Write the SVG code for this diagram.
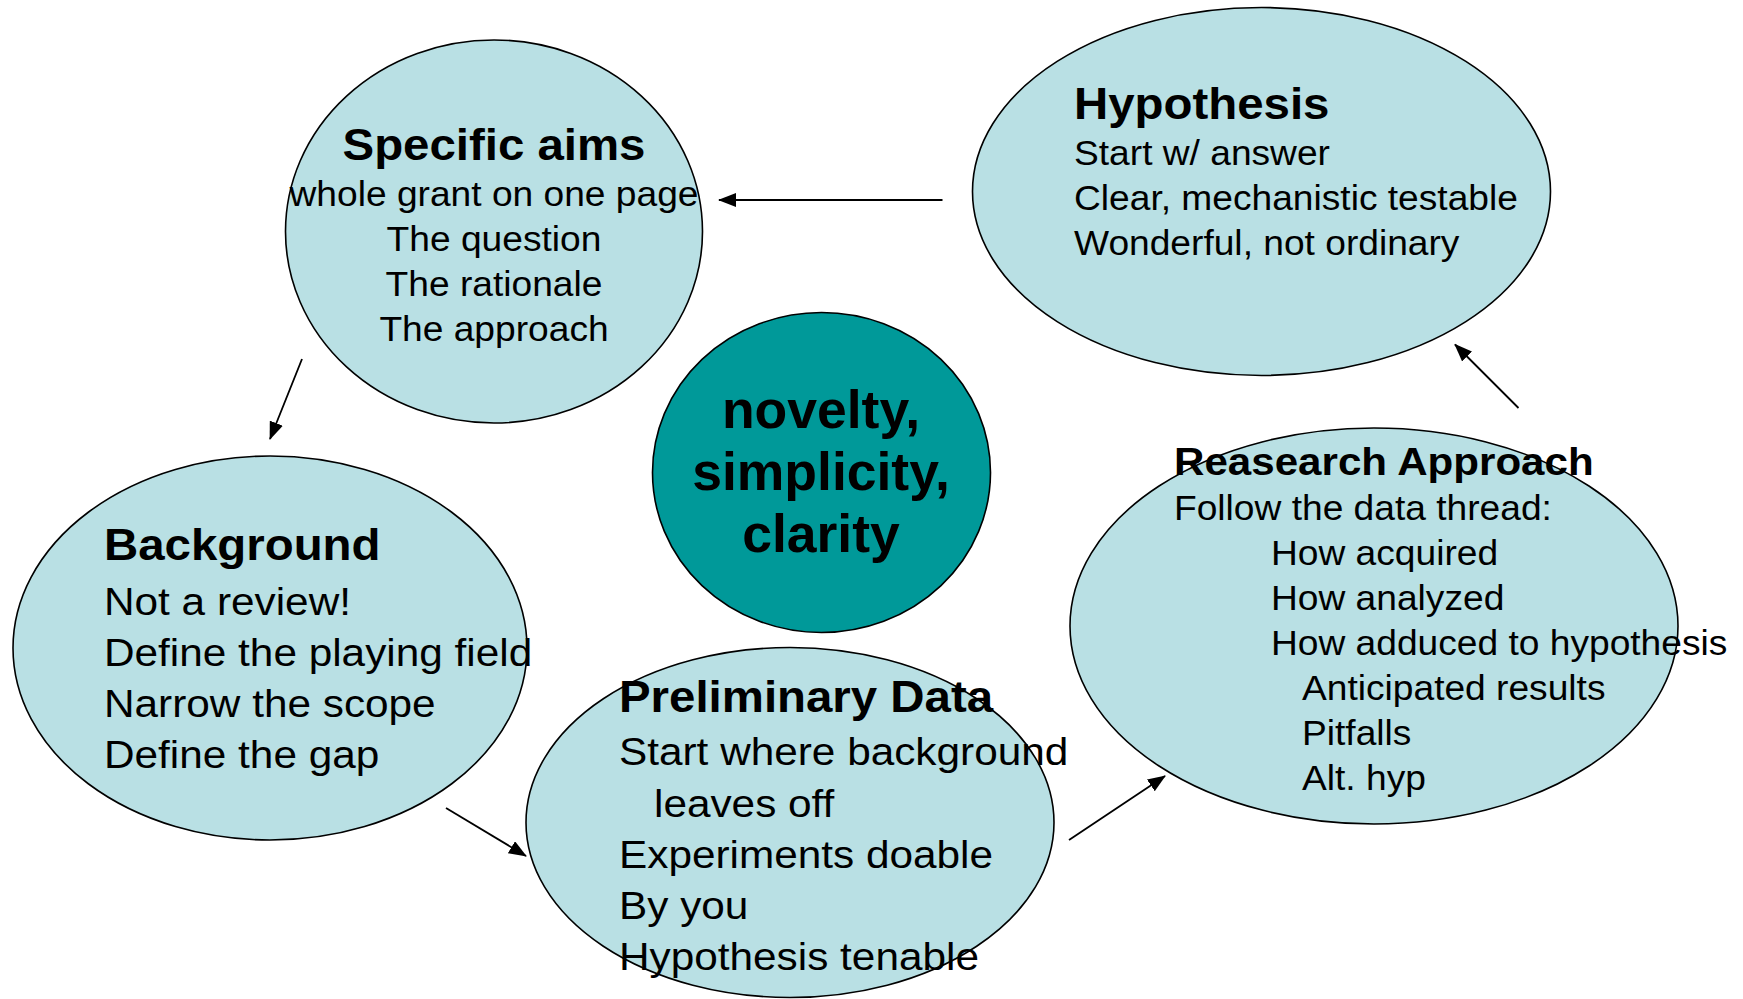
<svg xmlns="http://www.w3.org/2000/svg" width="1743" height="999" viewBox="0 0 1743 999">
<style>
.lt{fill:#B9E0E4;stroke:#000;stroke-width:1.6}
.dk{fill:#009999;stroke:#000;stroke-width:1.6}
text{font-family:"Liberation Sans",Arial,sans-serif;fill:#000}
.t{font-weight:bold;font-size:43.9px}
.b{font-size:34.4px}
.bb{font-size:39.2px}
.c{font-weight:bold;font-size:53.5px;text-anchor:middle}
.m{text-anchor:middle}
.cn{stroke:#000;stroke-width:1.8;fill:none;marker-end:url(#ah)}
</style>
<defs>
<marker id="ah" viewBox="0 0 18 14" refX="17" refY="7" markerWidth="18" markerHeight="14" markerUnits="userSpaceOnUse" orient="auto">
<path d="M0,0 L18,7 L0,14 Z" fill="#000"/>
</marker>
</defs>
<rect width="1743" height="999" fill="#fff"/>
<g id="specific-aims">
<ellipse class="lt" cx="494" cy="231.5" rx="208.5" ry="191.5"/>
<g transform="translate(494,0) scale(1.08,1)">
<text class="t m" x="0" y="160">Specific aims</text>
<text class="b m" x="0" y="206">whole grant on one page</text>
<text class="b m" x="0" y="251.5">The question</text>
<text class="b m" x="0" y="296.5">The rationale</text>
<text class="b m" x="0" y="341.5">The approach</text>
</g>
</g>
<g id="hypothesis">
<ellipse class="lt" cx="1261.5" cy="191.5" rx="289" ry="184"/>
<g transform="translate(1074,0) scale(1.08,1)">
<text class="t" x="0" y="119.5">Hypothesis</text>
<text class="b" x="0" y="165">Start w/ answer</text>
<text class="b" x="0" y="210">Clear, mechanistic testable</text>
<text class="b" x="0" y="255">Wonderful, not ordinary</text>
</g>
</g>
<g id="center">
<ellipse class="dk" cx="821.5" cy="472.5" rx="169" ry="160"/>
<text class="c" x="821" y="428">novelty,</text>
<text class="c" x="821" y="490">simplicity,</text>
<text class="c" x="821" y="552">clarity</text>
</g>
<g id="background">
<ellipse class="lt" cx="270" cy="648" rx="257" ry="192"/>
<g transform="translate(104,0) scale(1.08,1)">
<text class="t" x="0" y="560">Background</text>
<text class="bb" x="0" y="615">Not a review!</text>
<text class="bb" x="0" y="666">Define the playing field</text>
<text class="bb" x="0" y="717">Narrow the scope</text>
<text class="bb" x="0" y="768">Define the gap</text>
</g>
</g>
<g id="preliminary-data">
<ellipse class="lt" cx="790" cy="822.5" rx="264" ry="175"/>
<g transform="translate(619,0) scale(1.08,1)">
<text class="t" x="0" y="712">Preliminary Data</text>
<text class="bb" x="0" y="765">Start where background</text>
<text class="bb" x="32.4" y="817">leaves off</text>
<text class="bb" x="0" y="868">Experiments doable</text>
<text class="bb" x="0" y="919">By you</text>
<text class="bb" x="0" y="970">Hypothesis tenable</text>
</g>
</g>
<g id="research-approach">
<ellipse class="lt" cx="1374" cy="626" rx="304" ry="198"/>
<g transform="translate(1174,0) scale(1.08,1)">
<text class="t" x="0" y="475" style="font-size:39px">Reasearch Approach</text>
<text class="b" x="0" y="520">Follow the data thread:</text>
<text class="b" x="89.8" y="565">How acquired</text>
<text class="b" x="89.8" y="610">How analyzed</text>
<text class="b" x="89.8" y="655">How adduced to hypothesis</text>
<text class="b" x="118.5" y="700">Anticipated results</text>
<text class="b" x="118.5" y="745">Pitfalls</text>
<text class="b" x="118.5" y="790">Alt. hyp</text>
</g>
</g>
<g id="connectors">
<line class="cn" x1="942.5" y1="200" x2="719" y2="200"/>
<line class="cn" x1="302" y1="359" x2="270" y2="439"/>
<line class="cn" x1="446" y1="808" x2="526" y2="856"/>
<line class="cn" x1="1069" y1="840" x2="1165" y2="776"/>
<line class="cn" x1="1518.5" y1="408" x2="1455" y2="344.5"/>
</g>
</svg>
